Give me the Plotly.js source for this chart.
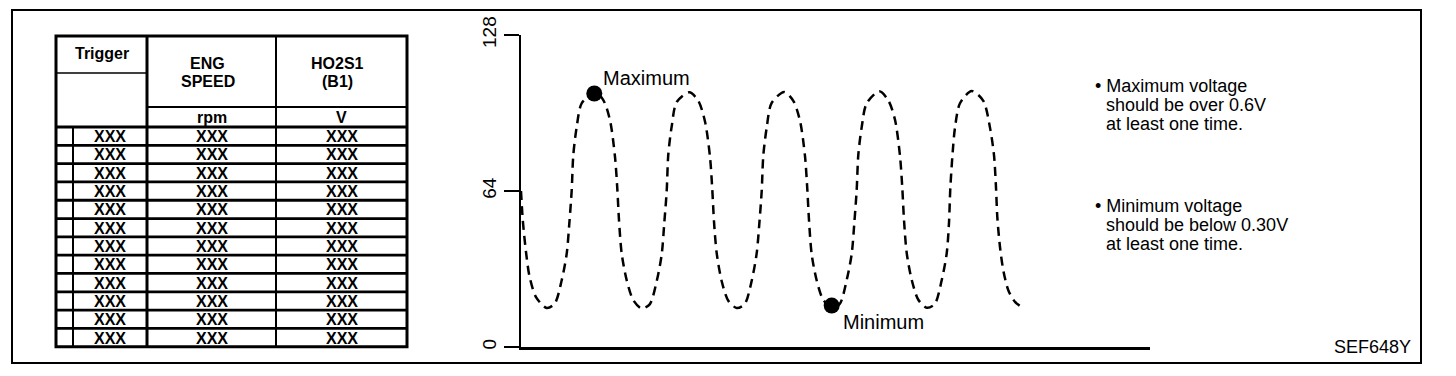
<!DOCTYPE html>
<html><head><meta charset="utf-8">
<script src="https://cdn.plot.ly/plotly-3.0.1.min.js"></script>
<style>html,body{margin:0;padding:0;background:#fff;} #chart{width:1456px;height:376px;}</style>
</head><body><div id="chart"></div>
<script>
// ---------- DATA ----------
const timeS = [
  0.000, 0.018, 0.050, 0.085, 0.150, 0.257,
  0.337, 0.407, 0.457, 0.483, 0.507, 0.523, 0.557, 0.607, 0.733, 0.823, 0.890, 0.940, 0.963, 0.980, 1.007, 1.057, 1.123, 1.207,
  1.287, 1.357, 1.407, 1.433, 1.457, 1.473, 1.507, 1.557, 1.683, 1.773, 1.840, 1.890, 1.913, 1.930, 1.957, 2.007, 2.073, 2.157,
  2.237, 2.307, 2.357, 2.383, 2.407, 2.423, 2.457, 2.507, 2.633, 2.723, 2.790, 2.840, 2.863, 2.880, 2.907, 2.957, 3.023, 3.107,
  3.187, 3.257, 3.307, 3.333, 3.357, 3.373, 3.407, 3.457, 3.583, 3.673, 3.740, 3.790, 3.813, 3.830, 3.857, 3.907, 3.973, 4.057,
  4.137, 4.207, 4.257, 4.280, 4.293, 4.317, 4.340, 4.390, 4.507, 4.623, 4.690, 4.730, 4.750, 4.763, 4.790, 4.823, 4.873, 4.940, 5.007
];
const signal = [
  64, 52, 39, 29, 20.5, 16,
  17.8, 27.4, 38.3, 50.6, 64.3, 78.7, 90.3, 100, 104.8, 101.3, 93, 78, 65, 52, 38.3, 27.4, 19.2, 15.8,
  17.5, 27, 38, 51, 64, 79, 90.5, 100.5, 104.5, 101, 92.5, 78, 64.5, 51.5, 38.5, 27, 19, 16,
  17.6, 27.2, 38.5, 50.5, 64, 78.5, 90, 100.2, 104.6, 101, 92.8, 78.3, 64.8, 52, 38, 27.3, 19.3, 16.2,
  17.7, 27.5, 38.2, 50.8, 64.5, 78.8, 90.2, 100, 104.9, 101.2, 93.2, 78.4, 65.2, 52.2, 38.6, 27.6, 19.4, 16.1,
  17.6, 27.4, 38.4, 51, 65, 80, 90, 100, 105, 101, 90, 78.7, 65.4, 53.4, 41, 31.5, 23.3, 18.5, 16.4
];
const markerT = [0.733, 3.107];
const markerV = [104, 17];
const markerLabels = ['Maximum', 'Minimum'];
const yTickVals = [0, 64, 128];
const yTickText = ['0', '64', '128'];

const tableHeaders = [['Trigger'], ['ENG', 'SPEED'], ['HO2S1', '(B1)']];
const tableUnits = ['', 'rpm', 'V'];
const triggerCol = ['XXX','XXX','XXX','XXX','XXX','XXX','XXX','XXX','XXX','XXX','XXX','XXX'];
const engSpeedCol = ['XXX','XXX','XXX','XXX','XXX','XXX','XXX','XXX','XXX','XXX','XXX','XXX'];
const ho2s1Col = ['XXX','XXX','XXX','XXX','XXX','XXX','XXX','XXX','XXX','XXX','XXX','XXX'];

const noteMax = ['Maximum voltage', 'should be over 0.6V', 'at least one time.'];
const noteMin = ['Minimum voltage', 'should be below 0.30V', 'at least one time.'];
const figureCode = 'SEF648Y';

// ---------- LAYOUT GEOMETRY ----------
const W = 1456, H = 376;
const PL = 521, PR = 1150, PT = 35, PB = 347;
const FONT = '"Liberation Sans", Arial, Helvetica, sans-serif';
const px = x => (x - PL) / (PR - PL);
const py = y => (PB - y) / (PB - PT);

const shapes = [];
const annotations = [];
function hline(x0, x1, y, w) {
  shapes.push({type:'line', xref:'paper', yref:'paper', x0:px(x0), x1:px(x1), y0:py(y), y1:py(y), line:{color:'#000', width:w}});
}
function vline(x, y0, y1, w) {
  shapes.push({type:'line', xref:'paper', yref:'paper', x0:px(x), x1:px(x), y0:py(y0), y1:py(y1), line:{color:'#000', width:w}});
}
function label(text, cx, cy, size, bold, anchor) {
  annotations.push({xref:'paper', yref:'paper', x:px(cx), y:py(cy), text: bold ? '<b>'+text+'</b>' : text,
    showarrow:false, xanchor: anchor || 'center', yanchor:'middle',
    font:{family:FONT, size:size, color:'#000'}});
}

// figure frame
shapes.push({type:'rect', xref:'paper', yref:'paper', x0:px(12), x1:px(1421), y0:py(10), y1:py(363), line:{color:'#000', width:2}});

// table
const TL = 56, TR = 407, TT = 36, TB = 346.7;
const C0 = 73, C1 = 147, C2 = 276;
const HMID = 107, HDATA = 127, TRIG_LINE = 73;
const nRows = triggerCol.length;
const rowH = (TB - HDATA) / nRows;
shapes.push({type:'rect', xref:'paper', yref:'paper', x0:px(TL), x1:px(TR), y0:py(TT), y1:py(TB), line:{color:'#000', width:3}});
vline(C1, TT, TB, 3);
vline(C2, TT, TB, 2);
vline(C0, HDATA, TB, 2);
hline(TL, C1, TRIG_LINE, 1.5);
hline(C1, TR, HMID, 2);
hline(TL, TR, HDATA, 3);
for (let i = 1; i < nRows; i++) hline(TL, TR, HDATA + i * rowH, 2.8);

const colCenters = [(TL + C1) / 2, (C1 + C2) / 2 - 4, (C2 + TR) / 2 - 4];
label(tableHeaders[0][0], colCenters[0], 53, 16, true);
[1, 2].forEach(c => {
  tableHeaders[c].forEach((t, j) => label(t, colCenters[c], 63.5 + j * 18.4, 16, true));
  label(tableUnits[c], (c === 1 ? (C1 + C2) / 2 : (C2 + TR) / 2), 117.5, 16, true);
});
const dataCenters = [(C0 + C1) / 2, (C1 + C2) / 2, (C2 + TR) / 2];
[triggerCol, engSpeedCol, ho2s1Col].forEach((col, c) => {
  col.forEach((t, r) => label(t, dataCenters[c], HDATA + (r + 0.5) * rowH + 0.5, 16, true));
});

// marker labels (data coordinates)
annotations.push({x:0.80, y:110.3, xref:'x', yref:'y', text:markerLabels[0], showarrow:false, xanchor:'left', yanchor:'middle', font:{family:FONT, size:20, color:'#000'}});
annotations.push({x:3.20, y:10.3, xref:'x', yref:'y', text:markerLabels[1], showarrow:false, xanchor:'left', yanchor:'middle', font:{family:FONT, size:20, color:'#000'}});

// notes
const noteX = 1093, noteIndent = 1104;
noteMax.forEach((t, i) => label(i === 0 ? '• ' + t : t, i === 0 ? noteX : noteIndent, 86 + i * 19, 18, false, 'left'));
noteMin.forEach((t, i) => label(i === 0 ? '• ' + t : t, i === 0 ? noteX : noteIndent, 206 + i * 19, 18, false, 'left'));

// figure code
label(figureCode, 1372, 347, 18, false);

// ---------- TRACES ----------
const traces = [
  {x: timeS, y: signal, type:'scatter', mode:'lines', line:{color:'#000', width:2.5, dash:'9px,6px', shape:'spline', smoothing:0.8}, hoverinfo:'skip'},
  {x: markerT, y: markerV, type:'scatter', mode:'markers', marker:{color:'#000', size:16}, hoverinfo:'skip'}
];

const layout = {
  width: W, height: H,
  margin: {l: PL, r: W - PR, t: PT, b: H - PB, pad: 0},
  paper_bgcolor: '#fff', plot_bgcolor: '#fff',
  showlegend: false,
  font: {family: FONT, color: '#000'},
  xaxis: {range:[0, 6.29], showgrid:false, zeroline:false, showticklabels:false, ticks:'', showline:true, linecolor:'#000', linewidth:3, fixedrange:true},
  yaxis: {range:[0, 128], showgrid:false, zeroline:false, showline:true, linecolor:'#000', linewidth:2,
    tickmode:'array', tickvals:yTickVals, ticktext:yTickText, ticks:'outside', ticklen:15, tickwidth:2, tickcolor:'#000',
    tickangle:-90, tickfont:{family:FONT, size:19, color:'#000'}, fixedrange:true},
  shapes: shapes,
  annotations: annotations
};

Plotly.newPlot('chart', traces, layout, {staticPlot:true, displayModeBar:false});
</script>
</body></html>
